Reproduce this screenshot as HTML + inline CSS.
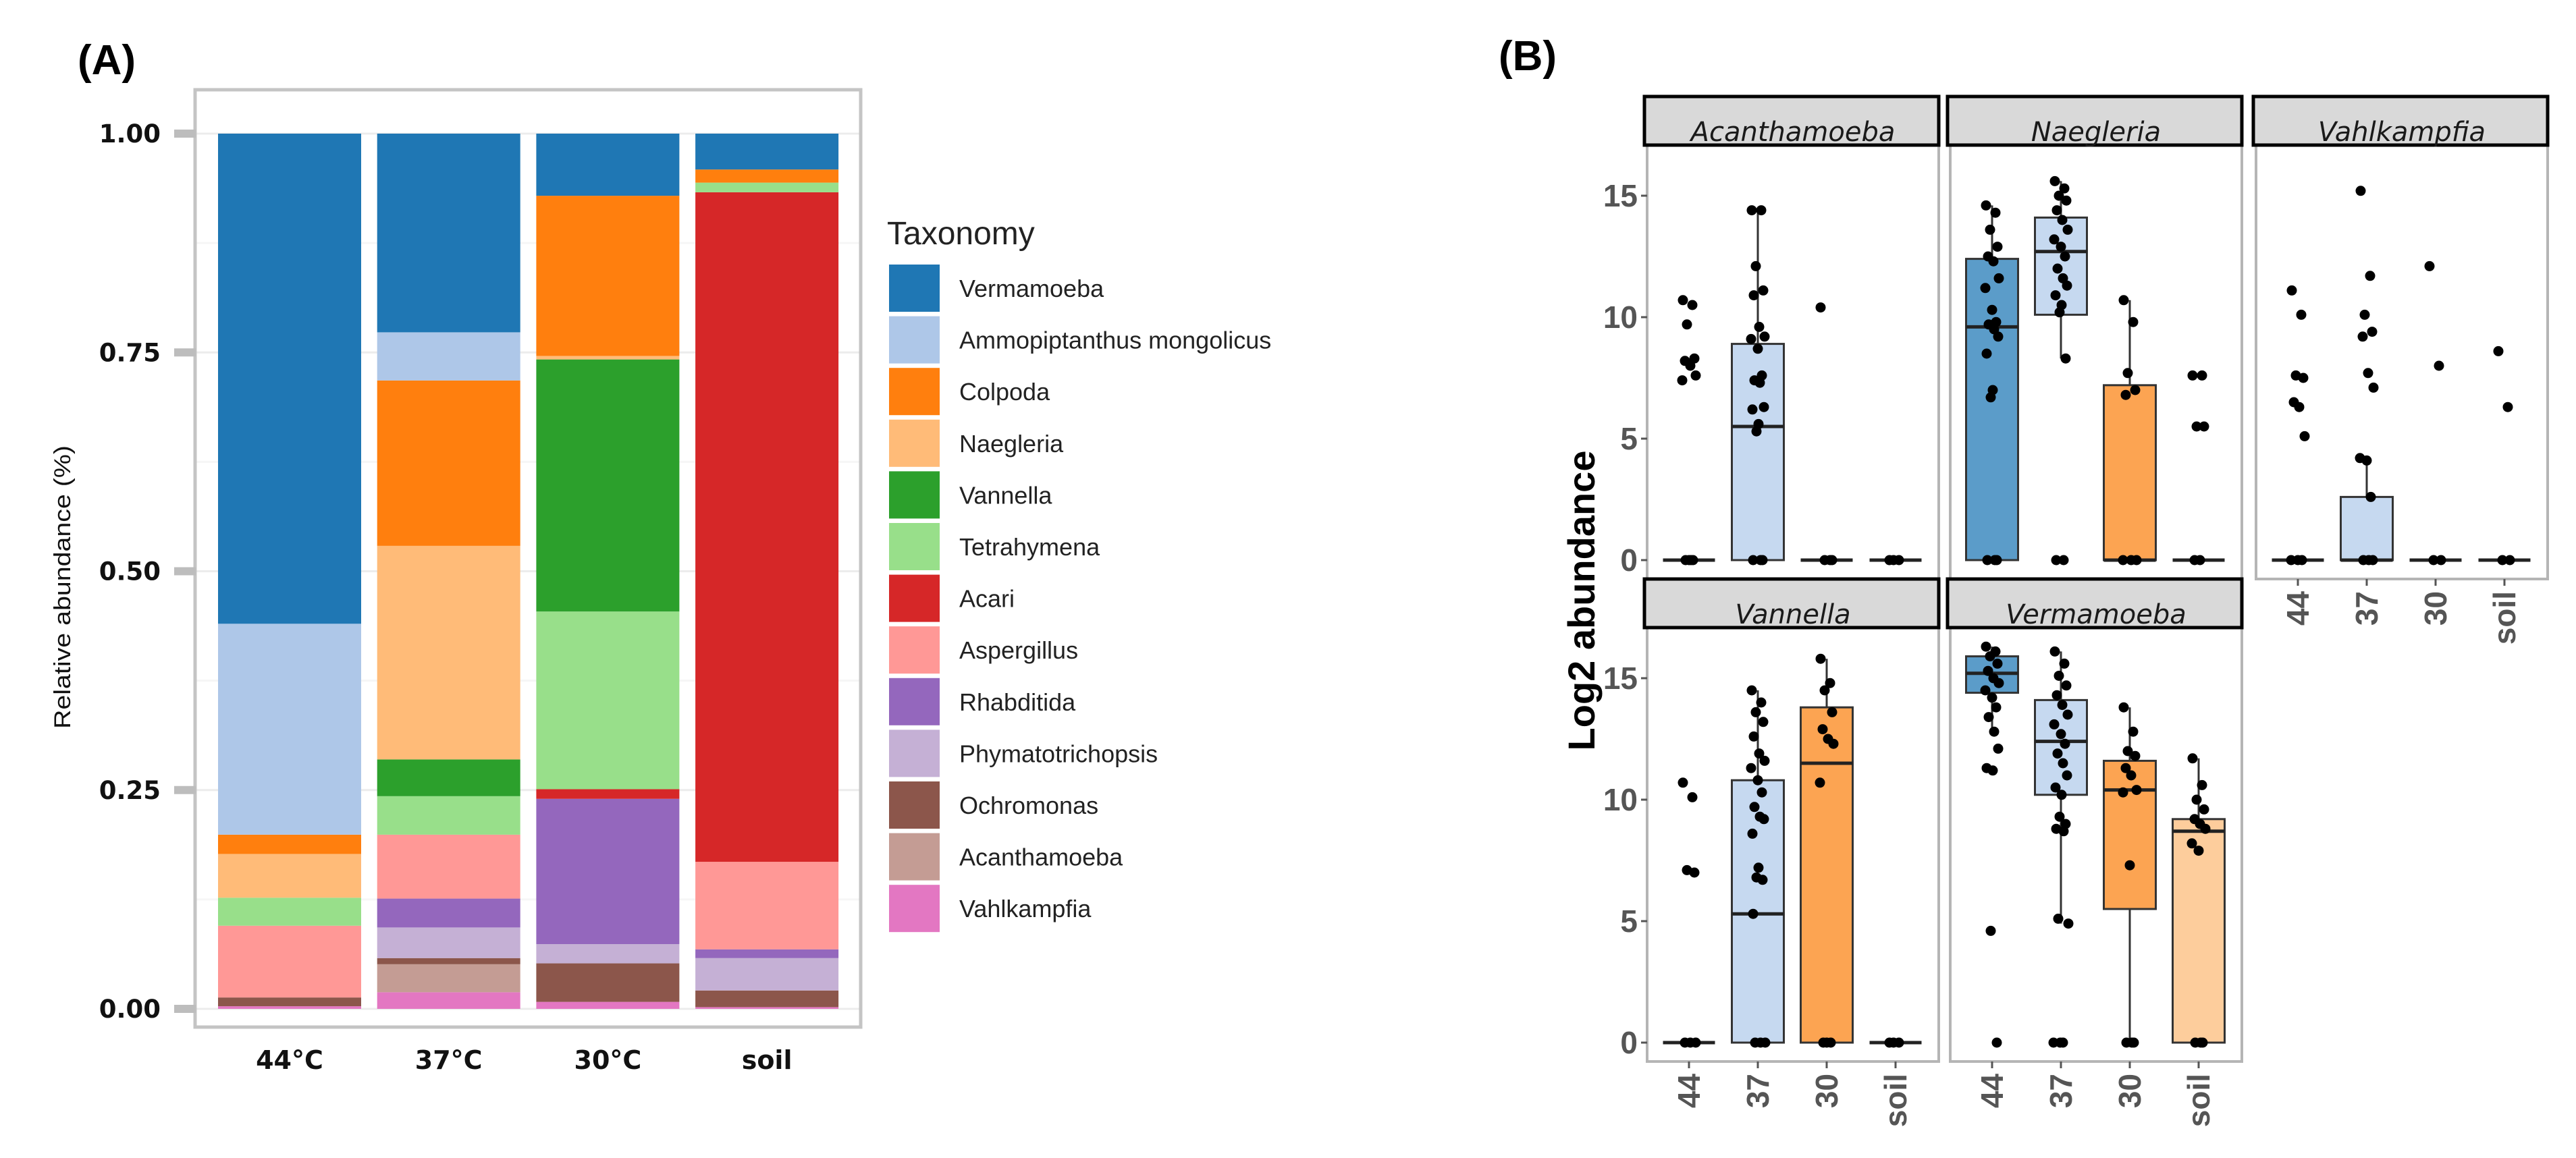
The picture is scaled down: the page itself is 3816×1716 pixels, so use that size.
<!DOCTYPE html>
<html><head><meta charset="utf-8"><style>
html,body{margin:0;padding:0;background:#fff;}
svg{display:block;}
</style></head><body>
<svg id="fig" width="3816" height="1716" viewBox="0 0 3816 1716" xmlns="http://www.w3.org/2000/svg">
<rect width="3816" height="1716" fill="#fff"/>
<text x="115" y="110" font-family="Liberation Sans, sans-serif" font-weight="bold" font-size="62">(A)</text>
<text x="2220" y="104" font-family="Liberation Sans, sans-serif" font-weight="bold" font-size="62">(B)</text>
<g id="pa"></g>
<g id="legend"></g>
<g id="pb"></g>
</svg>
<script>
// ---------- Panel A data ----------
const groups = ["44°C","37°C","30°C","soil"];
const taxa = ["Vermamoeba","Ammopiptanthus mongolicus","Colpoda","Naegleria","Vannella","Tetrahymena","Acari","Aspergillus","Rhabditida","Phymatotrichopsis","Ochromonas","Acanthamoeba","Vahlkampfia"];
const taxaColors = ["#1f77b4","#aec7e8","#ff7f0e","#ffbb78","#2ca02c","#98df8a","#d62728","#ff9896","#9467bd","#c5b0d5","#8c564b","#c49c94","#e377c2"];
// values per taxon, order of groups: 44, 37, 30, soil
const vVermamoeba   = [0.560,0.227,0.071,0.041];
const vAmmo         = [0.241,0.055,0.000,0.000];
const vColpoda      = [0.022,0.189,0.183,0.015];
const vNaegleria    = [0.050,0.244,0.004,0.000];
const vVannella     = [0.000,0.042,0.288,0.000];
const vTetrahymena  = [0.032,0.044,0.203,0.011];
const vAcari        = [0.000,0.000,0.011,0.765];
const vAspergillus  = [0.082,0.073,0.000,0.100];
const vRhabditida   = [0.000,0.033,0.166,0.010];
const vPhymato      = [0.000,0.035,0.022,0.037];
const vOchromonas   = [0.010,0.007,0.044,0.019];
const vAcanthamoeba = [0.000,0.032,0.000,0.000];
const vVahlkampfia  = [0.003,0.019,0.008,0.002];
const yTicksA = [0,0.25,0.5,0.75,1];
const yTickLabelsA = ["0.00","0.25","0.50","0.75","1.00"];

// ---------- Panel B data ----------
const cats = ["44","37","30","soil"];
const facetNames = ["Acanthamoeba","Naegleria","Vahlkampfia","Vannella","Vermamoeba"];
const yTicksB = [0,5,10,15];
// boxes: [whiskerLo, q1, median, q3, whiskerHi] per category
const acanBox = [[0,0,0,0,0],[0,0,5.5,8.9,14.4],[0,0,0,0,0],[0,0,0,0,0]];
const naegBox = [[0,0,9.6,12.4,14.6],[8.3,10.1,12.7,14.1,15.6],[0,0,0,7.2,10.7],[0,0,0,0,0]];
const vahlBox = [[0,0,0,0,0],[0,0,0,2.6,4.2],[0,0,0,0,0],[0,0,0,0,0]];
const vannBox = [[0,0,0,0,0],[0,0,5.3,10.8,14.5],[0,0,11.5,13.8,15.8],[0,0,0,0,0]];
const vermBox = [[12.8,14.4,15.2,15.9,16.3],[4.9,10.2,12.4,14.1,16.1],[0,5.5,10.4,11.6,13.8],[0,0,8.7,9.2,11.7]];
const acanPts = [[10.7,10.5,9.7,8.3,8.2,8.0,7.6,7.4,0,0,0,0],[14.4,14.4,12.1,11.1,10.9,9.6,9.2,9.1,8.7,7.6,7.4,7.3,6.3,6.2,5.6,5.3,0,0,0],[10.4,0,0,0],[0,0,0]];
const naegPts = [[14.6,14.3,13.6,12.9,12.5,12.3,11.6,11.2,10.3,9.8,9.7,9.5,9.2,8.5,7.0,6.7,0,0,0],[15.6,15.3,15.0,14.8,14.4,14.0,13.6,13.2,12.9,12.5,12.0,11.6,11.3,10.9,10.5,10.2,8.3,0,0],[10.7,9.8,7.7,7.0,6.8,0,0,0],[7.6,7.6,5.5,5.5,0,0]];
const vahlPts = [[11.1,10.1,7.6,7.5,6.5,6.3,5.1,0,0,0],[15.2,11.7,10.1,9.4,9.2,7.7,7.1,4.2,4.1,2.6,0,0,0],[12.1,8.0,0,0],[8.6,6.3,0,0]];
const vannPts = [[10.7,10.1,7.1,7.0,0,0,0],[14.5,14.0,13.6,13.2,12.6,11.9,11.6,11.3,10.8,10.3,9.7,9.3,9.2,8.6,7.2,6.8,6.7,5.3,0,0,0],[15.8,14.8,14.5,13.6,12.9,12.5,12.3,10.7,0,0,0],[0,0,0]];
const vermPts = [[16.3,16.1,15.9,15.6,15.3,15.0,14.8,14.5,14.2,13.8,13.4,12.8,12.1,11.3,11.2,4.6,0],[16.1,15.6,15.1,14.7,14.3,13.9,13.5,13.1,12.7,12.3,11.9,11.5,11.0,10.5,10.2,9.3,9.0,8.8,8.7,5.1,4.9,0,0,0],[13.8,12.8,12.0,11.8,11.3,11.0,10.4,10.3,7.3,0,0,0],[11.7,10.6,10.0,9.6,9.2,9.0,8.8,8.2,7.9,0,0,0]];

const NS = "http://www.w3.org/2000/svg";
function mk(tag, attrs, parent){const e=document.createElementNS(NS,tag);for(const k in attrs)e.setAttribute(k,attrs[k]);parent.appendChild(e);return e;}

// ---------- Panel A draw ----------
(function(){
  const g = document.getElementById('pa');
  const fx0=289, fx1=1275, fy0=133, fy1=1522;
  const y0=1495, y1=198;
  const yA = v => y0 - v*(y0-y1);
  const barX = i => 323 + i*235.7;
  const barW = 212;
  for(let k=0;k<=8;k++){
    const l=mk('line',{x1:fx0,x2:fx1,y1:yA(k/8),y2:yA(k/8),stroke:k%2?'#f6f6f6':'#ececec','stroke-width':3},g);
    
    
  }
  const vals=[vVermamoeba,vAmmo,vColpoda,vNaegleria,vVannella,vTetrahymena,vAcari,vAspergillus,vRhabditida,vPhymato,vOchromonas,vAcanthamoeba,vVahlkampfia];
  groups.forEach((grp,i)=>{
    let cum=0;
    for(let t=taxa.length-1;t>=0;t--){
      const v=vals[t][i]; if(v<=0) continue;
      const r=mk('rect',{x:barX(i),y:yA(cum+v),width:barW,height:yA(cum)-yA(cum+v),fill:taxaColors[t]},g);
      
      
      cum+=v;
    }
    const tx=mk('text',{x:barX(i)+barW/2,y:1584,'text-anchor':'middle','font-family':'DejaVu Sans, sans-serif','font-weight':'bold','font-size':38,fill:'#111'},g);
    tx.textContent=grp;
    
    
  });
  const fr=mk('rect',{x:fx0,y:fy0,width:fx1-fx0,height:fy1-fy0,fill:'none',stroke:'#c4c4c4','stroke-width':5},g);
  
  
  yTicksA.forEach((v,k)=>{
    const tk=mk('line',{x1:258,x2:290,y1:yA(v),y2:yA(v),stroke:'#bdbdbd','stroke-width':12},g);
    
    
    const t=mk('text',{x:238,y:yA(v)+13,'text-anchor':'end','font-family':'DejaVu Sans, sans-serif','font-weight':'bold','font-size':37,fill:'#111'},g);
    t.textContent=yTickLabelsA[k];
    
    
  });
  const yt=mk('text',{x:0,y:0,transform:'translate(104,870) rotate(-90)','text-anchor':'middle','font-family':'Liberation Sans, sans-serif','font-size':34,textLength:420,lengthAdjust:'spacingAndGlyphs',fill:'#111'},g);
  yt.textContent='Relative abundance (%)';
  
  
  const L=document.getElementById('legend');
  const tt=mk('text',{x:1314,y:362,'font-family':'Liberation Sans, sans-serif','font-size':48,fill:'#222'},L);
  tt.textContent='Taxonomy';
  
  
  taxa.forEach((n,k)=>{
    const yy=392+k*76.6;
    const s=mk('rect',{x:1317,y:yy,width:75,height:70,fill:taxaColors[k]},L);
    
    
    const t=mk('text',{x:1421,y:yy+48,'font-family':'Liberation Sans, sans-serif','font-size':36,fill:'#222'},L);
    t.textContent=n;
    
    
  });
})();

// ---------- Panel B draw ----------
(function(){
  const g=document.getElementById('pb');
  const colX=[2440,2889,3342];
  const W=432;
  const unit=36;
  const rows=[{strip:143,zero:830},{strip:858,zero:1545}];
  const pos=[[0,0],[0,1],[0,2],[1,0],[1,1]];
  const boxes=[acanBox,naegBox,vahlBox,vannBox,vermBox];
  const pts=[acanPts,naegPts,vahlPts,vannPts,vermPts];
  const fills=["#5b9cc9","#c6d9f0","#fca452","#fdcd9c"];
  const jit=[-9,5,-3,8,-6,2,10,-10,0,6,-5,3,9,-8,1,-2,7,-7,4,-4,11,-11,3,-1];
  facetNames.forEach((name,f)=>{
    const r=pos[f][0], c=pos[f][1];
    const x0=colX[c], row=rows[r];
    const pTop=row.strip+72, pBot=row.zero+28;
    const y=v=>row.zero - v*unit;
    const cx=i=>x0+62+i*102;
    const fg=mk('g',{},g);
    
    
    const pr=mk('rect',{x:x0,y:pTop,width:W,height:pBot-pTop,fill:'#fff',stroke:'#b5b5b5','stroke-width':4},fg);
    
    
    const sr=mk('rect',{x:x0-4,y:row.strip,width:W+4,height:72,fill:'#d9d9d9',stroke:'#000','stroke-width':5},fg);
    
    
    const st=mk('text',{x:x0+W/2,y:row.strip+66,'text-anchor':'middle','font-family':'DejaVu Sans, sans-serif','font-style':'italic','font-size':40,fill:'#1a1a1a'},fg);
    st.textContent=name;
    
    
    cats.forEach((cn,i)=>{
      const b=boxes[f][i];
      const bw=77, bx=cx(i)-bw/2;
      if(b){
        const wl=mk('line',{x1:cx(i),x2:cx(i),y1:y(b[0]),y2:y(b[4]),stroke:'#333','stroke-width':3},fg);
        
        
        if(b[3]>b[1]){
          const br=mk('rect',{x:bx,y:y(b[3]),width:bw,height:y(b[1])-y(b[3]),fill:fills[i],stroke:'#333','stroke-width':3},fg);
          
          
        }
        const md=mk('line',{x1:bx,x2:bx+bw,y1:y(b[2]),y2:y(b[2]),stroke:'#222','stroke-width':5},fg);
        
        
      }
      pts[f][i].forEach((v,k)=>{
        const p=mk('circle',{cx:cx(i)+jit[k%jit.length],cy:y(v),r:7.5,fill:'#000'},fg);
        
        
      });
    });
    if(c===0){
      yTicksB.forEach(v=>{
        const tk=mk('line',{x1:2431,x2:2440,y1:y(v),y2:y(v),stroke:'#555','stroke-width':3},g);
        
        
        const t=mk('text',{x:2426,y:y(v)+16,'text-anchor':'end','font-family':'Liberation Sans, sans-serif','font-weight':'bold','font-size':46,fill:'#555'},g);
        t.textContent=String(v);
        
        
      });
    }
    if(r===1 || c===2){
      cats.forEach((cn,i)=>{
        const tk=mk('line',{x1:cx(i),x2:cx(i),y1:pBot,y2:pBot+10,stroke:'#555','stroke-width':3},g);
        
        
        const t=mk('text',{x:0,y:0,transform:'translate('+(cx(i)+16)+','+(pBot+18)+') rotate(-90)','text-anchor':'end','font-family':'Liberation Sans, sans-serif','font-weight':'bold','font-size':46,fill:'#555'},g);
        t.textContent=cn;
        
        
      });
    }
  });
  const yt=mk('text',{x:0,y:0,transform:'translate(2362,890) rotate(-90)','text-anchor':'middle','font-family':'Liberation Sans, sans-serif','font-weight':'bold','font-size':56,fill:'#000'},g);
  yt.textContent='Log2 abundance';
  
  
})();
</script>
</body></html>
